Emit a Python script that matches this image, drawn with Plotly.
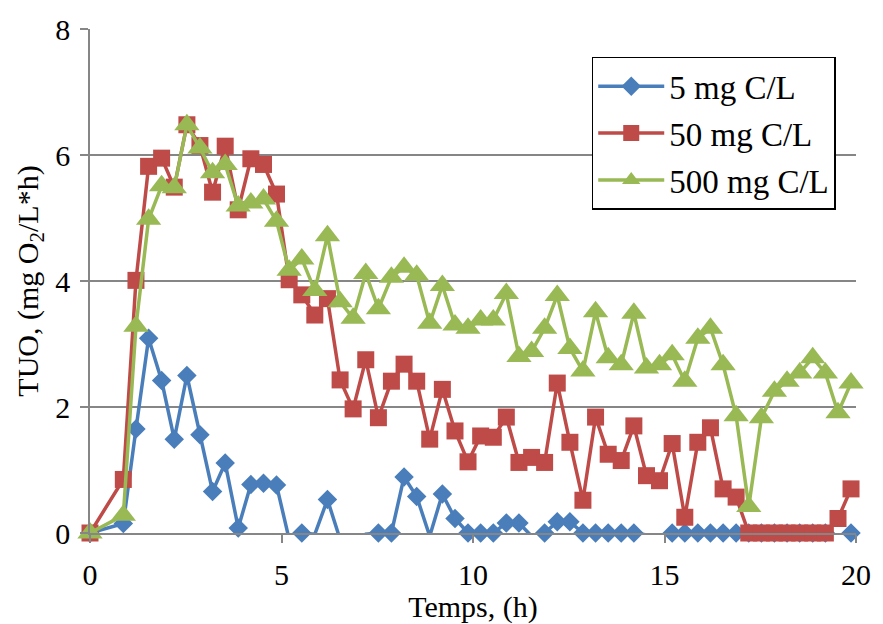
import numpy as np
import plotly.graph_objects as go

# Time (h)
temps = [0, 0.87, 1.20, 1.53, 1.87, 2.20, 2.53, 2.87, 3.20, 3.53, 3.87, 4.20, 4.53, 4.87,
         5.20, 5.53, 5.87, 6.20, 6.53, 6.87, 7.20, 7.53, 7.87, 8.20, 8.53, 8.87, 9.20, 9.53,
         9.87, 10.20, 10.53, 10.87, 11.20, 11.53, 11.87, 12.20, 12.53, 12.87, 13.20, 13.53,
         13.87, 14.20, 14.53, 14.87, 15.20, 15.53, 15.87, 16.20, 16.53, 16.87, 17.20, 17.53,
         17.87, 18.20, 18.53, 18.87, 19.20, 19.53, 19.87]

tuo_5 = [0, 0.15, 1.65, 3.09, 2.42, 1.49, 2.50, 1.56, 0.66, 1.11, 0.08, 0.77, 0.79, 0.76,
         -0.10, 0, -0.02, 0.53, -0.10, -0.30, -0.02, 0, 0, 0.89, 0.58, -0.05, 0.62, 0.23,
         0, 0, 0, 0.16, 0.16, -0.05, 0, 0.18, 0.18, 0, 0, 0,
         0, 0, -0.03, -0.10, 0, 0, 0, 0, 0, 0, 0, 0,
         0, 0, 0, 0, 0, -0.05, 0]

tuo_50 = [0, 0.85, 4.01, 5.82, 5.95, 5.49, 6.48, 6.15, 5.41, 6.14, 5.13, 5.94, 5.85, 5.38,
          4.02, 3.78, 3.46, 3.72, 2.43, 1.97, 2.75, 1.83, 2.41, 2.68, 2.41, 1.49, 2.28, 1.62,
          1.13, 1.54, 1.52, 1.84, 1.12, 1.20, 1.12, 2.38, 1.44, 0.52, 1.84, 1.25,
          1.15, 1.70, 0.91, 0.83, 1.42, 0.25, 1.44, 1.67, 0.70, 0.57, 0, 0,
          0, 0, 0, 0, 0, 0.23, 0.70]

tuo_500 = [0, 0.28, 3.28, 4.98, 5.51, 5.48, 6.48, 6.11, 5.72, 5.85, 5.19, 5.24, 5.30, 4.95,
           4.17, 4.35, 3.85, 4.72, 3.67, 3.41, 4.12, 3.56, 4.06, 4.22, 4.09, 3.33, 3.93, 3.30,
           3.25, 3.38, 3.38, 3.80, 2.80, 2.88, 3.25, 3.77, 2.93, 2.57, 3.51, 2.78,
           2.67, 3.49, 2.62, 2.67, 2.83, 2.41, 3.09, 3.25, 2.67, 1.86, 0.42, 1.83,
           2.25, 2.41, 2.54, 2.78, 2.54, 1.91, 2.38]

series_names = ["5 mg C/L", "50 mg C/L", "500 mg C/L"]
series_vals = [tuo_5, tuo_50, tuo_500]
colors = ["#4A7EBB", "#BE4B48", "#98B954"]
symbols = ["diamond", "square", "triangle-up"]
sizes = [15, 17, 22]

x_ticks = [0, 5, 10, 15, 20]
y_ticks = [0, 2, 4, 6, 8]

FONT = "Liberation Serif"

fig = go.Figure()
for name, vals, col, sym, sz in zip(series_names, series_vals, colors, symbols, sizes):
    v = np.array(vals, dtype=float)
    fig.add_trace(go.Scatter(x=temps, y=v, mode="lines", line=dict(color=col, width=3.5),
                             cliponaxis=True, showlegend=False, hoverinfo="skip"))
    vm = np.where(v < 0, np.nan, v)
    fig.add_trace(go.Scatter(x=temps, y=vm, mode="markers",
                             marker=dict(symbol=sym, size=sz, color=col, line=dict(width=0)),
                             cliponaxis=False, showlegend=False))
    fig.add_trace(go.Scatter(x=[None], y=[None], mode="lines+markers", name=name,
                             legendgroup=name,
                             line=dict(color=col, width=3.5),
                             marker=dict(symbol=sym, size=sz, color=col, line=dict(width=0))))

fig.update_layout(
    width=883, height=624,
    margin=dict(l=90, r=20, t=22, b=91),
    paper_bgcolor="white", plot_bgcolor="white",
    font=dict(family=FONT, size=30, color="black"),
    legend=dict(x=0.655, y=0.945, xanchor="left", yanchor="top",
                bgcolor="white", bordercolor="black", borderwidth=1.5,
                font=dict(family=FONT, size=33), itemwidth=66,
                tracegroupgap=1, traceorder="grouped"),
    xaxis=dict(range=[0, 20], tickvals=x_ticks, showgrid=False, zeroline=False,
               showline=True, linecolor="#868686", linewidth=1.5,
               ticks="outside", ticklen=8, tickcolor="#868686", tickwidth=1.5,
               tickfont=dict(family=FONT, size=30), ticklabelstandoff=6,
               title=dict(text="Temps, (h)", font=dict(family=FONT, size=30), standoff=0)),
    yaxis=dict(range=[0, 8], tickvals=y_ticks, showgrid=True, gridcolor="#868686", gridwidth=1.5,
               zeroline=False, showline=True, linecolor="#868686", linewidth=1.5,
               ticks="outside", ticklen=8, tickcolor="#868686", tickwidth=1.5,
               tickfont=dict(family=FONT, size=30), ticklabelstandoff=4,
               title=dict(text="TUO, (mg O<sub>2</sub>/L*h)", font=dict(family=FONT, size=30),
                          standoff=8)),
)

fig.write_html("out.html")
